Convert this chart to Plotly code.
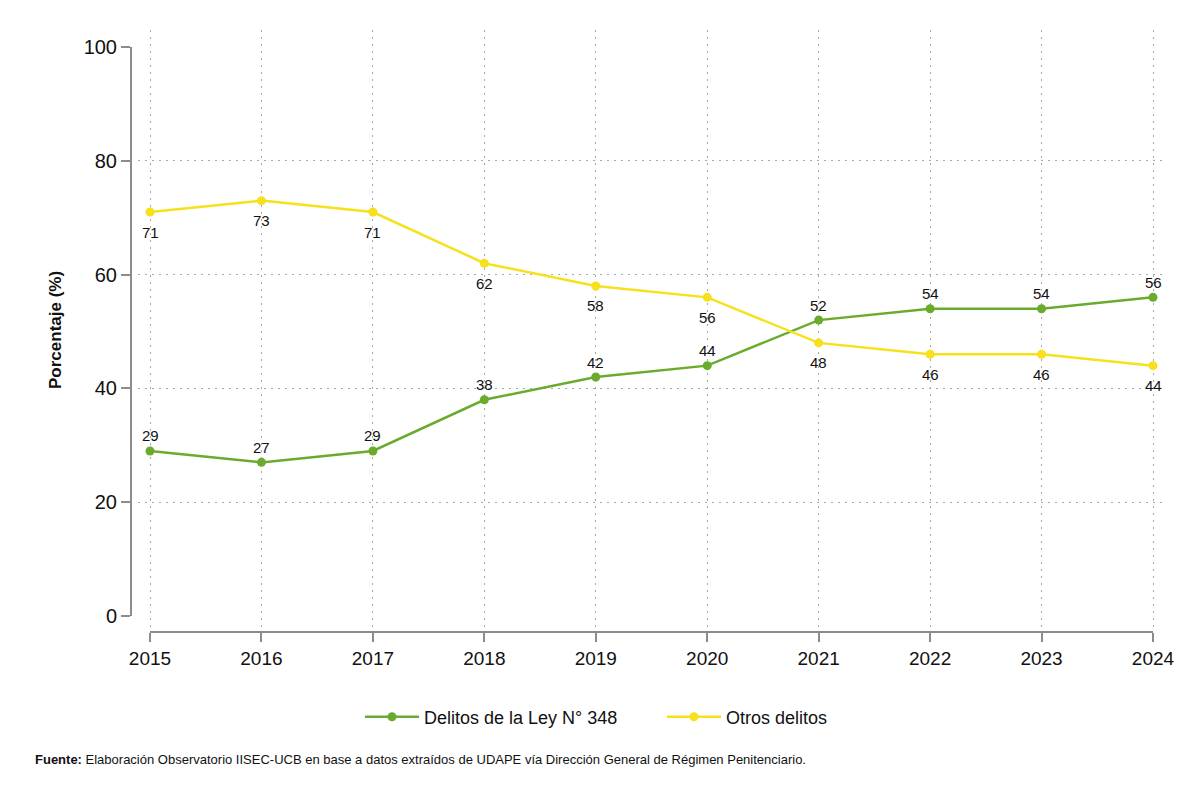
import plotly.graph_objects as go

years = [2015, 2016, 2017, 2018, 2019, 2020, 2021, 2022, 2023, 2024]
ley348 = [29, 27, 29, 38, 42, 44, 52, 54, 54, 56]
otros = [71, 73, 71, 62, 58, 56, 48, 46, 46, 44]
y_ticks = [0, 20, 40, 60, 80, 100]
grid_y = [20, 40, 60, 80]
name1 = "Delitos de la Ley N° 348"
name2 = "Otros delitos"
source = ("<b>Fuente:</b> Elaboración Observatorio IISEC-UCB en base a datos extraídos de UDAPE "
          "vía Dirección General de Régimen Penitenciario.")

W, H = 1200, 801
GREEN = "#6aab2d"
YELLOW = "#f7e01c"
AX = "#8c8c8c"
FONT = "Liberation Sans, Arial, sans-serif"

# pixel layout
dx0, dx1 = 150, 1153   # data area x
dy0, dy1 = 47, 616     # data area y (top, bottom)
gx0, gx1 = 138, 1165   # grid region x
gy0, gy1 = 30, 628     # grid region y

def px_x(p):
    return p / W

def px_y(p):
    return (H - p) / H

xmin, xmax = years[0], years[-1]
ppx = (dx1 - dx0) / (xmax - xmin)
ppy = (dy1 - dy0) / 100.0

fig = go.Figure()

# grid-only subplot (x/y), drawn beneath
fig.add_trace(go.Scatter(x=[], y=[], xaxis="x", yaxis="y", showlegend=False, hoverinfo="skip"))

fig.add_trace(go.Scatter(
    x=years, y=ley348, name=name1, mode="lines+markers",
    line=dict(color=GREEN, width=2.5), marker=dict(color=GREEN, size=9),
    xaxis="x2", yaxis="y2", cliponaxis=False))

fig.add_trace(go.Scatter(
    x=years, y=otros, name=name2, mode="lines+markers",
    line=dict(color=YELLOW, width=2.5), marker=dict(color=YELLOW, size=9),
    xaxis="x2", yaxis="y2", cliponaxis=False))

label_font = dict(family=FONT, size=15, color="#111")
for x, v in zip(years, ley348):
    fig.add_annotation(x=x, y=v, xref="x2", yref="y2", text=str(v), showarrow=False,
                       yshift=15, font=label_font)
for x, v in zip(years, otros):
    fig.add_annotation(x=x, y=v, xref="x2", yref="y2", text=str(v), showarrow=False,
                       yshift=-20, font=label_font)

grid_style = dict(showgrid=True, gridcolor="#a8a8a8", griddash="2px,5px", gridwidth=1,
                  showline=False, zeroline=False, showticklabels=False, ticks="",
                  automargin=False)

fig.update_layout(
    width=W, height=H,
    margin=dict(l=0, r=0, t=0, b=0, autoexpand=False),
    paper_bgcolor="white", plot_bgcolor="rgba(0,0,0,0)",
    font=dict(family=FONT, color="#111"),
    xaxis=dict(domain=[px_x(gx0), px_x(gx1)],
               range=[xmin - (dx0 - gx0) / ppx, xmax + (gx1 - dx1) / ppx],
               tickvals=years, anchor="y", **grid_style),
    yaxis=dict(domain=[px_y(gy1), px_y(gy0)],
               range=[0 - (gy1 - dy1) / ppy, 100 + (dy0 - gy0) / ppy],
               tickvals=grid_y, anchor="x", **grid_style),
    xaxis2=dict(domain=[px_x(dx0), px_x(dx1)], range=[xmin, xmax],
                anchor="free", position=px_y(632), automargin=False,
                showline=True, linecolor=AX, linewidth=2,
                ticks="outside", ticklen=9, tickwidth=2, tickcolor=AX,
                tickvals=years, tickfont=dict(size=19, family=FONT, color="#111"),
                showgrid=False, zeroline=False),
    yaxis2=dict(domain=[px_y(dy1), px_y(dy0)], range=[0, 100],
                anchor="free", position=px_x(131), automargin=False,
                showline=True, linecolor=AX, linewidth=2,
                ticks="outside", ticklen=9, tickwidth=2, tickcolor=AX,
                tickvals=y_ticks, tickfont=dict(size=20, family=FONT, color="#111"),
                showgrid=False, zeroline=False),
    legend=dict(orientation="h", x=px_x(360), xanchor="left", y=px_y(717), yanchor="middle",
                font=dict(size=18, family=FONT, color="#111"),
                itemwidth=54, entrywidth=233, entrywidthmode="pixels",
                bgcolor="rgba(0,0,0,0)"),
    showlegend=True,
)

fig.add_annotation(text="Porcentaje (%)", xref="paper", yref="paper",
                   x=px_x(55), y=px_y(330), xanchor="center", yanchor="middle",
                   textangle=-90, showarrow=False,
                   font=dict(family=FONT, size=17, color="#111", weight="bold"))

fig.add_annotation(text=source, xref="paper", yref="paper",
                   x=px_x(33), y=px_y(759), xanchor="left", yanchor="middle",
                   showarrow=False, font=dict(family=FONT, size=13, color="#111"))

fig.write_html("out.html")
